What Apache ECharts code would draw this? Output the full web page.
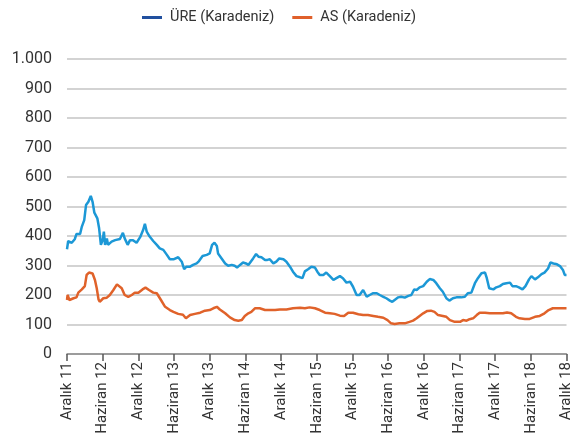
<!DOCTYPE html>
<html>
<head>
<meta charset="utf-8">
<script src="https://cdn.jsdelivr.net/npm/echarts@6/dist/echarts.min.js"></script>
<style>
  html, body { margin: 0; padding: 0; background: #fff; }
  #chart { width: 574px; height: 448px; }
</style>
</head>
<body>
<div id="chart"></div>
<script>
// x = months since Aralık 2011
const ureMonths = [0, 0.2, 0.8, 1.3, 1.6, 2.2, 2.5, 2.9, 3.2, 3.6, 4.0, 4.3, 4.6, 5.1, 5.4, 5.7, 6.0, 6.2, 6.4, 6.7, 6.9, 7.5, 8.1, 8.9, 9.4, 9.7, 10.2, 10.6, 11.1, 11.7, 12.3, 12.8, 13.1, 13.4, 13.9, 14.5, 15.1, 15.6, 16.2, 16.8, 17.3, 17.9, 18.7, 19.3, 19.7, 20.1, 20.7, 21.2, 21.8, 22.2, 22.8, 23.5, 24.0, 24.4, 24.8, 25.2, 25.4, 26.0, 26.6, 27.1, 27.7, 28.2, 28.6, 29.1, 29.6, 30.1, 30.5, 30.9, 31.3, 31.8, 32.2, 32.7, 33.3, 33.7, 34.1, 34.7, 35.2, 35.7, 36.4, 36.9, 37.5, 38.0, 38.6, 39.2, 39.6, 40.0, 40.6, 41.1, 41.7, 42.1, 42.5, 43.1, 43.6, 44.2, 44.8, 45.3, 45.9, 46.4, 47.0, 47.6, 48.1, 48.7, 49.2, 49.8, 50.4, 50.9, 51.5, 52.1, 52.6, 53.2, 53.7, 54.3, 54.7, 55.1, 55.7, 56.2, 56.8, 57.4, 57.9, 58.4, 58.8, 59.3, 59.9, 60.5, 61.0, 61.6, 62.1, 62.7, 63.2, 63.8, 64.3, 64.9, 65.5, 66.3, 66.9, 67.4, 68.0, 68.6, 69.1, 69.7, 70.3, 70.6, 71.0, 71.7, 72.2, 72.8, 73.3, 73.9, 74.5, 74.9, 75.5, 76.0, 76.6, 77.1, 77.7, 78.1, 78.7, 79.2, 79.8, 80.3, 80.9, 81.3, 81.8, 82.4, 82.9, 83.4, 83.7, 84.0]
const ureValues = [355, 383, 377, 389, 407, 407, 432, 454, 505, 516, 536, 516, 479, 460, 426, 370, 386, 415, 370, 392, 370, 381, 386, 390, 411, 392, 370, 386, 386, 377, 396, 420, 441, 415, 398, 383, 370, 358, 353, 336, 321, 321, 328, 313, 288, 296, 296, 302, 307, 315, 332, 336, 341, 370, 377, 366, 341, 324, 307, 299, 302, 299, 293, 302, 310, 307, 302, 313, 324, 339, 330, 328, 319, 319, 321, 307, 313, 324, 321, 313, 296, 279, 264, 260, 257, 280, 288, 296, 293, 279, 268, 268, 276, 264, 251, 257, 264, 257, 242, 245, 228, 200, 200, 217, 194, 200, 206, 206, 200, 194, 189, 181, 177, 183, 192, 194, 191, 197, 200, 219, 217, 226, 230, 245, 254, 251, 240, 223, 211, 189, 181, 189, 192, 192, 194, 206, 208, 240, 257, 274, 276, 257, 223, 219, 226, 230, 237, 240, 242, 230, 230, 226, 219, 230, 253, 264, 253, 260, 271, 276, 290, 310, 307, 304, 298, 285, 268, 268]

const asMonths = [0, 0.1, 0.4, 1.1, 1.6, 1.9, 2.5, 3.0, 3.3, 3.7, 4.3, 4.7, 5.0, 5.3, 5.5, 6.1, 6.7, 7.2, 7.8, 8.4, 8.7, 9.2, 9.7, 10.3, 10.9, 11.4, 12.0, 12.7, 13.2, 13.8, 14.5, 15.1, 15.8, 16.5, 17.3, 17.9, 18.7, 19.5, 20.0, 20.7, 21.5, 22.4, 23.2, 24.0, 24.6, 25.2, 25.7, 26.6, 27.4, 28.2, 28.8, 29.4, 29.9, 30.5, 31.0, 31.6, 31.9, 32.4, 33.3, 34.1, 35.0, 35.8, 36.9, 38.0, 39.2, 40.0, 40.8, 41.7, 42.5, 43.4, 44.2, 45.0, 45.9, 46.6, 47.3, 48.1, 49.0, 49.8, 50.6, 51.5, 52.3, 53.2, 53.9, 54.5, 55.1, 55.9, 56.8, 57.6, 58.2, 58.8, 59.3, 59.9, 60.6, 61.2, 61.8, 62.4, 63.2, 63.8, 64.4, 65.2, 66.1, 66.6, 67.2, 67.7, 68.3, 68.9, 69.4, 70.3, 71.1, 72.2, 73.3, 74.0, 74.7, 75.5, 76.1, 77.0, 77.8, 78.7, 79.5, 80.3, 81.0, 81.7, 82.5, 83.4, 84.0]
const asValues = [183, 200, 183, 189, 192, 208, 219, 230, 268, 276, 273, 251, 223, 185, 177, 189, 191, 200, 217, 236, 240, 223, 200, 194, 200, 208, 208, 219, 225, 217, 208, 206, 183, 160, 149, 143, 136, 133, 121, 132, 136, 140, 147, 149, 155, 160, 151, 138, 124, 115, 113, 115, 129, 138, 143, 155, 160, 155, 149, 149, 149, 151, 151, 155, 157, 155, 158, 155, 149, 140, 138, 136, 130, 129, 140, 140, 135, 132, 132, 129, 126, 123, 115, 104, 102, 104, 104, 109, 113, 121, 129, 138, 146, 147, 143, 132, 129, 126, 115, 109, 109, 115, 113, 118, 121, 132, 140, 140, 138, 138, 138, 141, 138, 126, 121, 119, 119, 126, 129, 138, 149, 155, 155, 155, 155]

const seriesNames = ['ÜRE (Karadeniz)', 'AS (Karadeniz)']
const yTicks = [0, 1000, 100]

const zip = (xs, ys) => xs.map((x, i) => [x, ys[i]])

const font = 'Roboto, "Noto Sans", sans-serif'

const monthLabel = (m) => {
  const yr = 11 + Math.floor(m / 12)
  if (m % 12 === 0) return 'Aralık ' + yr
  return 'Haziran ' + (yr + 1)
}

const chart = echarts.init(document.getElementById('chart'))

chart.setOption({
  animation: false,
  textStyle: { fontFamily: font },
  legend: {
    top: 5,
    left: 137,
    itemGap: 18,
    itemWidth: 20,
    itemHeight: 3,
    textStyle: { fontSize: 14.5, color: '#333', fontFamily: font, padding: [0, 0, 0, 3] },
    data: [
      { name: seriesNames[0], icon: 'rect', itemStyle: { color: '#21509f' } },
      { name: seriesNames[1], icon: 'rect', itemStyle: { color: '#e0602b' } }
    ]
  },
  grid: { left: 67, right: 7, top: 59, bottom: 94 },
  xAxis: {
    type: 'value',
    min: 0,
    max: 84,
    interval: 6,
    axisLine: { lineStyle: { color: '#8a8a8a', width: 1.5 } },
    axisTick: { show: true, length: 7, lineStyle: { color: '#555', width: 1.5 } },
    splitLine: { show: false },
    axisLabel: {
      rotate: 90,
      margin: 8,
      fontSize: 15,
      color: '#333',
      fontFamily: font,
      showMinLabel: true,
      showMaxLabel: true,
      formatter: monthLabel
    }
  },
  yAxis: {
    type: 'value',
    min: yTicks[0],
    max: yTicks[1],
    interval: yTicks[2],
    axisLine: { show: false },
    axisTick: { show: false },
    splitLine: { lineStyle: { color: '#c4c4c4', width: 1.5 } },
    axisLabel: {
      margin: 15,
      fontSize: 16,
      color: '#333',
      fontFamily: font,
      formatter: (v) => v >= 1000 ? (v / 1000) + '.' + String(v % 1000).padStart(3, '0') : String(v)
    }
  },
  series: [
    {
      name: seriesNames[0],
      type: 'line',
      showSymbol: false,
      data: zip(ureMonths, ureValues),
      lineStyle: { color: '#1c98d6', width: 2.5 },
      itemStyle: { color: '#1c98d6' }
    },
    {
      name: seriesNames[1],
      type: 'line',
      showSymbol: false,
      data: zip(asMonths, asValues),
      lineStyle: { color: '#e0622a', width: 2.5 },
      itemStyle: { color: '#e0622a' }
    }
  ]
})
</script>
</body>
</html>
